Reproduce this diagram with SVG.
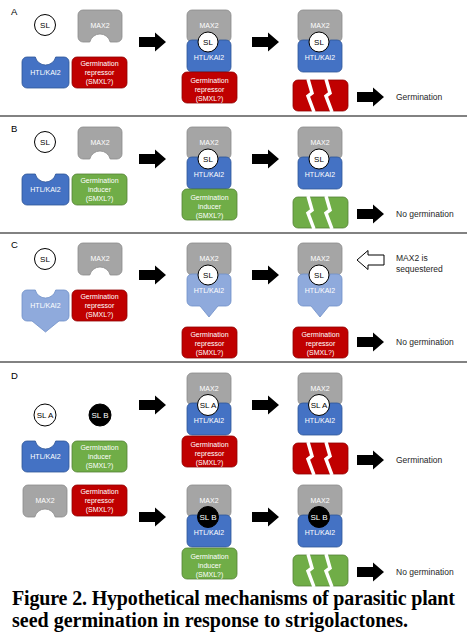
<svg xmlns="http://www.w3.org/2000/svg" width="467" height="643" viewBox="0 0 467 643">
<style>
text{font-family:"Liberation Sans",Arial,sans-serif}
.bt{font-size:7px;fill:#fff;text-anchor:middle}
.lbl{font-size:9.5px;fill:#000}
.out{font-size:8.5px;fill:#262626}
.sl{font-size:8px;fill:#000;text-anchor:middle}
.slw{font-size:8px;fill:#fff;text-anchor:middle}
.cap{font-family:"Liberation Serif","Times New Roman",serif;font-weight:bold;font-size:20px;fill:#000}
.g{fill:#A5A5A5;stroke:#8C8C8C;stroke-width:0.8}
.b{fill:#4472C4;stroke:#2F5597;stroke-width:0.8}
.lb{fill:#8FAADC;stroke:#6F8FC8;stroke-width:0.8}
.r{fill:#C00000;stroke:#900000;stroke-width:0.8}
.gr{fill:#70AD47;stroke:#548235;stroke-width:0.8}
.slc{fill:#fff;stroke:#000;stroke-width:1}
.slk{fill:#000;stroke:#000;stroke-width:1}
.ar{fill:#000}
.har{fill:#fff;stroke:#000;stroke-width:1}
.sep{stroke:#595959;stroke-width:1.5}
.crk{fill:none;stroke:#fff;stroke-width:3.5;stroke-linejoin:miter}
</style>
<defs>
<path id="gmax" d="M5,0 H39 A5,5 0 0 1 44,5 V27 A5,5 0 0 1 39,32 H32.2 A10.5,10.5 0 0 0 11.8,32 H5 A5,5 0 0 1 0,27 V5 A5,5 0 0 1 5,0 Z"/>
<path id="htl47" d="M5,0 H13.3 A10.5,10.5 0 0 0 33.7,0 H42 A5,5 0 0 1 47,5 V26 A5,5 0 0 1 42,31 H5 A5,5 0 0 1 0,26 V5 A5,5 0 0 1 5,0 Z"/>
<path id="htl44" d="M5,0 H11.8 A10.5,10.5 0 0 0 32.2,0 H39 A5,5 0 0 1 44,5 V27 A5,5 0 0 1 39,32 H5 A5,5 0 0 1 0,27 V5 A5,5 0 0 1 5,0 Z"/>
<path id="htl47t" d="M5,0 H13.3 A10.5,10.5 0 0 0 33.7,0 H42 A5,5 0 0 1 47,5 V26 A5,5 0 0 1 42,31 H37 L23.5,42 L10,31 H5 A5,5 0 0 1 0,26 V5 A5,5 0 0 1 5,0 Z"/>
<path id="htl44t" d="M5,0 H11.8 A10.5,10.5 0 0 0 32.2,0 H39 A5,5 0 0 1 44,5 V27 A5,5 0 0 1 39,32 H31 L22,43 L13,32 H5 A5,5 0 0 1 0,27 V5 A5,5 0 0 1 5,0 Z"/>
<rect id="box" width="55" height="31" rx="5"/>
<g id="brk">
<rect width="55" height="31" rx="5"/>
<polyline class="crk" points="15,-1 19,13 15,16 21,32"/>
<polyline class="crk" points="33,-1 37,13 33,16 39,32"/>
</g>
<path id="arr" d="M0,-5 H16 V-9.5 L27,0 L16,9.5 V5 H0 Z"/>
<path id="harl" d="M27,-5 H11 V-9.5 L0,0 L11,9.5 V5 H27 Z"/>
</defs>

<g id="separators">
<line class="sep" x1="0" y1="116" x2="467" y2="116"/>
<line class="sep" x1="0" y1="233" x2="467" y2="233"/>
<line class="sep" x1="0" y1="362" x2="467" y2="362"/>
</g>

<g id="connectors">
<use href="#arr" class="ar" x="139" y="42"/>
<use href="#arr" class="ar" x="252" y="42"/>
<use href="#arr" class="ar" x="357" y="97"/>
<use href="#arr" class="ar" x="139" y="159"/>
<use href="#arr" class="ar" x="252" y="159"/>
<use href="#arr" class="ar" x="357" y="214"/>
<use href="#arr" class="ar" x="139" y="275"/>
<use href="#arr" class="ar" x="252" y="275"/>
<use href="#harl" class="har" x="357" y="260"/>
<use href="#arr" class="ar" x="357" y="342"/>
<use href="#arr" class="ar" x="139" y="405"/>
<use href="#arr" class="ar" x="252" y="405"/>
<use href="#arr" class="ar" x="357" y="460"/>
<use href="#arr" class="ar" x="139" y="517"/>
<use href="#arr" class="ar" x="252" y="517"/>
<use href="#arr" class="ar" x="357" y="572"/>
</g>

<!-- Panel A -->
<g id="panelA">
<text class="lbl" x="11" y="15">A</text>
<g id="A-sl"><circle class="slc" cx="45" cy="25" r="10.5"/><text class="sl" x="45" y="28">SL</text></g>
<g id="A-max2"><use href="#gmax" class="g" x="78" y="10"/><text class="bt" x="100" y="28">MAX2</text></g>
<g id="A-htl"><use href="#htl47" class="b" x="22" y="57"/><text class="bt" x="45.5" y="75">HTL/KAI2</text></g>
<g id="A-rep"><use href="#box" class="r" x="72" y="57"/><text class="bt" x="99.5" y="65.5">Germination</text><text class="bt" x="99.5" y="74.5">repressor</text><text class="bt" x="99.5" y="83.5">(SMXL?)</text></g>
<g id="A-complex1"><use href="#gmax" class="g" x="187" y="10"/><use href="#htl44" class="b" x="187" y="40"/><circle class="slc" cx="208" cy="42" r="10"/><text class="sl" x="208" y="45">SL</text><text class="bt" x="209" y="27.5">MAX2</text><text class="bt" x="209" y="60">HTL/KAI2</text></g>
<g id="A-rep2"><use href="#box" class="r" x="182" y="72"/><text class="bt" x="209.5" y="82.5">Germination</text><text class="bt" x="209.5" y="91.5">repressor</text><text class="bt" x="209.5" y="100.5">(SMXL?)</text></g>
<g id="A-complex2"><use href="#gmax" class="g" x="298" y="10"/><use href="#htl44" class="b" x="298" y="40"/><circle class="slc" cx="319" cy="42" r="10"/><text class="sl" x="319" y="45">SL</text><text class="bt" x="320" y="27.5">MAX2</text><text class="bt" x="320" y="60">HTL/KAI2</text></g>
<g id="A-broken"><use href="#brk" class="r" x="293" y="80"/></g>
<text class="out" x="396" y="100">Germination</text>
</g>

<!-- Panel B -->
<g id="panelB">
<text class="lbl" x="11" y="132">B</text>
<g id="B-sl"><circle class="slc" cx="45" cy="142" r="10.5"/><text class="sl" x="45" y="145">SL</text></g>
<g id="B-max2"><use href="#gmax" class="g" x="78" y="127"/><text class="bt" x="100" y="145">MAX2</text></g>
<g id="B-htl"><use href="#htl47" class="b" x="22" y="174"/><text class="bt" x="45.5" y="192">HTL/KAI2</text></g>
<g id="B-ind"><use href="#box" class="gr" x="72" y="174"/><text class="bt" x="99.5" y="182.5">Germination</text><text class="bt" x="99.5" y="191.5">inducer</text><text class="bt" x="99.5" y="200.5">(SMXL?)</text></g>
<g id="B-complex1"><use href="#gmax" class="g" x="187" y="127"/><use href="#htl44" class="b" x="187" y="157"/><circle class="slc" cx="208" cy="159" r="10"/><text class="sl" x="208" y="162">SL</text><text class="bt" x="209" y="144.5">MAX2</text><text class="bt" x="209" y="177">HTL/KAI2</text></g>
<g id="B-ind2"><use href="#box" class="gr" x="182" y="189"/><text class="bt" x="209.5" y="199.5">Germination</text><text class="bt" x="209.5" y="208.5">inducer</text><text class="bt" x="209.5" y="217.5">(SMXL?)</text></g>
<g id="B-complex2"><use href="#gmax" class="g" x="298" y="127"/><use href="#htl44" class="b" x="298" y="157"/><circle class="slc" cx="319" cy="159" r="10"/><text class="sl" x="319" y="162">SL</text><text class="bt" x="320" y="144.5">MAX2</text><text class="bt" x="320" y="177">HTL/KAI2</text></g>
<g id="B-broken"><use href="#brk" class="gr" x="293" y="197"/></g>
<text class="out" x="396" y="217">No germination</text>
</g>

<!-- Panel C -->
<g id="panelC">
<text class="lbl" x="11" y="248">C</text>
<g id="C-sl"><circle class="slc" cx="45" cy="259" r="10.5"/><text class="sl" x="45" y="262">SL</text></g>
<g id="C-max2"><use href="#gmax" class="g" x="78" y="243"/><text class="bt" x="100" y="261">MAX2</text></g>
<g id="C-htl"><use href="#htl47t" class="lb" x="22" y="290"/><text class="bt" x="45.5" y="308">HTL/KAI2</text></g>
<g id="C-rep"><use href="#box" class="r" x="72" y="290"/><text class="bt" x="99.5" y="298.5">Germination</text><text class="bt" x="99.5" y="307.5">repressor</text><text class="bt" x="99.5" y="316.5">(SMXL?)</text></g>
<g id="C-complex1"><use href="#gmax" class="g" x="187" y="243"/><use href="#htl44t" class="lb" x="187" y="274"/><circle class="slc" cx="208" cy="275" r="10"/><text class="sl" x="208" y="278">SL</text><text class="bt" x="209" y="260.5">MAX2</text><text class="bt" x="209" y="293">HTL/KAI2</text></g>
<g id="C-rep2"><use href="#box" class="r" x="182" y="327"/><text class="bt" x="209.5" y="336.5">Germination</text><text class="bt" x="209.5" y="345.5">repressor</text><text class="bt" x="209.5" y="354.5">(SMXL?)</text></g>
<g id="C-complex2"><use href="#gmax" class="g" x="298" y="243"/><use href="#htl44t" class="lb" x="298" y="274"/><circle class="slc" cx="319" cy="275" r="10"/><text class="sl" x="319" y="278">SL</text><text class="bt" x="320" y="260.5">MAX2</text><text class="bt" x="320" y="293">HTL/KAI2</text></g>
<g id="C-rep3"><use href="#box" class="r" x="293" y="327"/><text class="bt" x="320.5" y="336.5">Germination</text><text class="bt" x="320.5" y="345.5">repressor</text><text class="bt" x="320.5" y="354.5">(SMXL?)</text></g>
<text class="out" x="396" y="261">MAX2 is</text>
<text class="out" x="396" y="272">sequestered</text>
<text class="out" x="396" y="345">No germination</text>
</g>

<!-- Panel D -->
<g id="panelD">
<text class="lbl" x="11" y="379">D</text>
<g id="D-slA"><circle class="slc" cx="45" cy="415" r="11"/><text class="sl" x="45" y="418">SL A</text></g>
<g id="D-slB"><circle class="slk" cx="100" cy="415" r="11"/><text class="slw" x="100" y="418">SL B</text></g>
<g id="D-htl"><use href="#htl47" class="b" x="22" y="441"/><text class="bt" x="45.5" y="459">HTL/KAI2</text></g>
<g id="D-ind"><use href="#box" class="gr" x="72" y="441"/><text class="bt" x="99.5" y="449.5">Germination</text><text class="bt" x="99.5" y="458.5">inducer</text><text class="bt" x="99.5" y="467.5">(SMXL?)</text></g>
<g id="D-max2"><use href="#gmax" class="g" x="23" y="485"/><text class="bt" x="45" y="502.5">MAX2</text></g>
<g id="D-rep"><use href="#box" class="r" x="72" y="485"/><text class="bt" x="99.5" y="493.5">Germination</text><text class="bt" x="99.5" y="502.5">repressor</text><text class="bt" x="99.5" y="511.5">(SMXL?)</text></g>
<g id="D-complexA1"><use href="#gmax" class="g" x="187" y="373"/><use href="#htl44" class="b" x="187" y="403"/><circle class="slc" cx="208" cy="405" r="10.5"/><text class="sl" x="208" y="408">SL A</text><text class="bt" x="209" y="390.5">MAX2</text><text class="bt" x="209" y="423">HTL/KAI2</text></g>
<g id="D-rep2"><use href="#box" class="r" x="182" y="436"/><text class="bt" x="209.5" y="446.5">Germination</text><text class="bt" x="209.5" y="455.5">repressor</text><text class="bt" x="209.5" y="464.5">(SMXL?)</text></g>
<g id="D-complexA2"><use href="#gmax" class="g" x="298" y="373"/><use href="#htl44" class="b" x="298" y="403"/><circle class="slc" cx="319" cy="405" r="10.5"/><text class="sl" x="319" y="408">SL A</text><text class="bt" x="320" y="390.5">MAX2</text><text class="bt" x="320" y="423">HTL/KAI2</text></g>
<g id="D-brokenR"><use href="#brk" class="r" x="293" y="443"/></g>
<text class="out" x="396" y="463">Germination</text>
<g id="D-complexB1"><use href="#gmax" class="g" x="187" y="485"/><use href="#htl44" class="b" x="187" y="515"/><circle class="slk" cx="208" cy="517" r="10.5"/><text class="slw" x="208" y="520">SL B</text><text class="bt" x="209" y="502.5">MAX2</text><text class="bt" x="209" y="535">HTL/KAI2</text></g>
<g id="D-ind2"><use href="#box" class="gr" x="182" y="548"/><text class="bt" x="209.5" y="558.5">Germination</text><text class="bt" x="209.5" y="567.5">inducer</text><text class="bt" x="209.5" y="576.5">(SMXL?)</text></g>
<g id="D-complexB2"><use href="#gmax" class="g" x="298" y="485"/><use href="#htl44" class="b" x="298" y="515"/><circle class="slk" cx="319" cy="517" r="10.5"/><text class="slw" x="319" y="520">SL B</text><text class="bt" x="320" y="502.5">MAX2</text><text class="bt" x="320" y="535">HTL/KAI2</text></g>
<g id="D-brokenG"><use href="#brk" class="gr" x="293" y="555"/></g>
<text class="out" x="396" y="575">No germination</text>
</g>

<g id="caption">
<text class="cap" x="12" y="605" textLength="443" lengthAdjust="spacing">Figure 2. Hypothetical mechanisms of parasitic plant</text>
<text class="cap" x="12" y="627" textLength="396" lengthAdjust="spacing">seed germination in response to strigolactones.</text>
</g>
</svg>
